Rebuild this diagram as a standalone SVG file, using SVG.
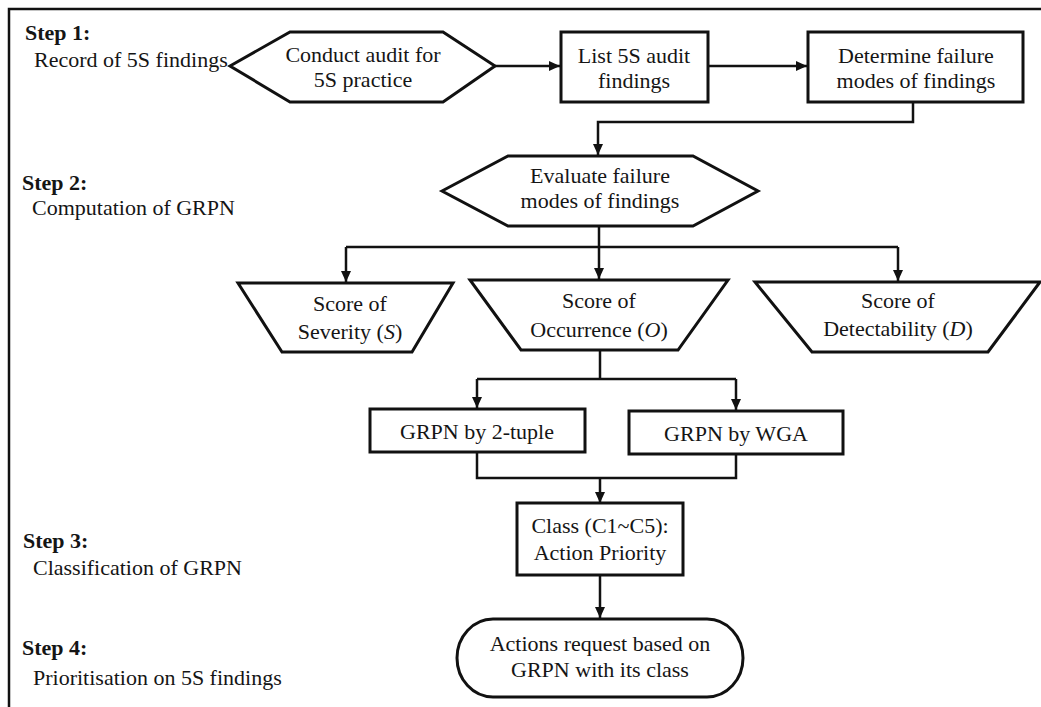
<svg xmlns="http://www.w3.org/2000/svg" width="1041" height="707" viewBox="0 0 1041 707">
<style>
text{font-family:"Liberation Serif","Times New Roman",serif;font-size:22px;fill:#151515}
.b{font-weight:bold}
.m{text-anchor:middle}
.shape{fill:#fff;stroke:#111;stroke-width:3;stroke-linejoin:miter}
.conn{fill:none;stroke:#111;stroke-width:2.5}
.frame{fill:none;stroke:#111;stroke-width:2.5}
</style>
<defs>
<marker id="ah" markerUnits="userSpaceOnUse" markerWidth="11" markerHeight="10" viewBox="0 0 11 10" refX="11" refY="5" orient="auto">
<path d="M0,0 L11,5 L0,10 z" fill="#111"/>
</marker>
</defs>
<rect width="1041" height="707" fill="#fff"/>
<path class="frame" d="M9,707 V9 H1041"/>

<g id="labels">
<text class="b" x="25" y="40">Step 1:</text>
<text x="34" y="67">Record of 5S findings</text>
<text class="b" x="22" y="190">Step 2:</text>
<text x="32" y="215">Computation of GRPN</text>
<text class="b" x="23" y="548">Step 3:</text>
<text x="33" y="575">Classification of GRPN</text>
<text class="b" x="22" y="655">Step 4:</text>
<text x="33" y="685">Prioritisation on 5S findings</text>
</g>

<g id="connectors">
<path class="conn" d="M495,66 H560" marker-end="url(#ah)"/>
<path class="conn" d="M708,66 H807" marker-end="url(#ah)"/>
<path class="conn" d="M913,102 V122 H598 V155" marker-end="url(#ah)"/>
<path class="conn" d="M599,226 V247"/>
<path class="conn" d="M346,247 H898"/>
<path class="conn" d="M346,247 V282" marker-end="url(#ah)"/>
<path class="conn" d="M599,247 V279" marker-end="url(#ah)"/>
<path class="conn" d="M898,247 V281" marker-end="url(#ah)"/>
<path class="conn" d="M600,350 V379"/>
<path class="conn" d="M477,379 H736"/>
<path class="conn" d="M477,379 V408" marker-end="url(#ah)"/>
<path class="conn" d="M736,379 V410" marker-end="url(#ah)"/>
<path class="conn" d="M477,452 V478 H736 V454"/>
<path class="conn" d="M600,478 V503" marker-end="url(#ah)"/>
<path class="conn" d="M600,575 V618" marker-end="url(#ah)"/>
</g>

<g id="n-conduct">
<polygon class="shape" points="230,66 290,32 443,32 495,66 443,102 290,102"/>
<text class="m" x="363" y="62">Conduct audit for</text>
<text class="m" x="363" y="87">5S practice</text>
</g>
<g id="n-list">
<rect class="shape" x="561" y="32" width="147" height="70"/>
<text class="m" x="634" y="63">List 5S audit</text>
<text class="m" x="634" y="88">findings</text>
</g>
<g id="n-determine">
<rect class="shape" x="808" y="32" width="215" height="70"/>
<text class="m" x="916" y="63">Determine failure</text>
<text class="m" x="916" y="88">modes of findings</text>
</g>
<g id="n-evaluate">
<polygon class="shape" points="442,191 508,156 693,156 758,191 693,226 508,226"/>
<text class="m" x="600" y="183">Evaluate failure</text>
<text class="m" x="600" y="208">modes of findings</text>
</g>
<g id="n-severity">
<polygon class="shape" points="238,283 453,283 412,352 282,352"/>
<text class="m" x="350" y="311">Score of</text>
<text class="m" x="350" y="339">Severity (<tspan font-style="italic">S</tspan>)</text>
</g>
<g id="n-occurrence">
<polygon class="shape" points="470,280 728,280 678,350 521,350"/>
<text class="m" x="599" y="308">Score of</text>
<text class="m" x="599" y="337">Occurrence (<tspan font-style="italic">O</tspan>)</text>
</g>
<g id="n-detectability">
<polygon class="shape" points="755,282 1040,282 988,352 812,352"/>
<text class="m" x="898" y="308">Score of</text>
<text class="m" x="898" y="336">Detectability (<tspan font-style="italic">D</tspan>)</text>
</g>
<g id="n-2tuple">
<rect class="shape" x="370" y="409" width="215" height="43"/>
<text class="m" x="477" y="439">GRPN by 2-tuple</text>
</g>
<g id="n-wga">
<rect class="shape" x="629" y="411" width="214" height="43"/>
<text class="m" x="736" y="441">GRPN by WGA</text>
</g>
<g id="n-class">
<rect class="shape" x="517" y="503" width="166" height="72"/>
<text class="m" x="600" y="533">Class (C1~C5):</text>
<text class="m" x="600" y="560">Action Priority</text>
</g>
<g id="n-actions">
<rect class="shape" x="457" y="619" width="286" height="78" rx="36" ry="39"/>
<text class="m" x="600" y="651">Actions request based on</text>
<text class="m" x="600" y="677">GRPN with its class</text>
</g>
</svg>
